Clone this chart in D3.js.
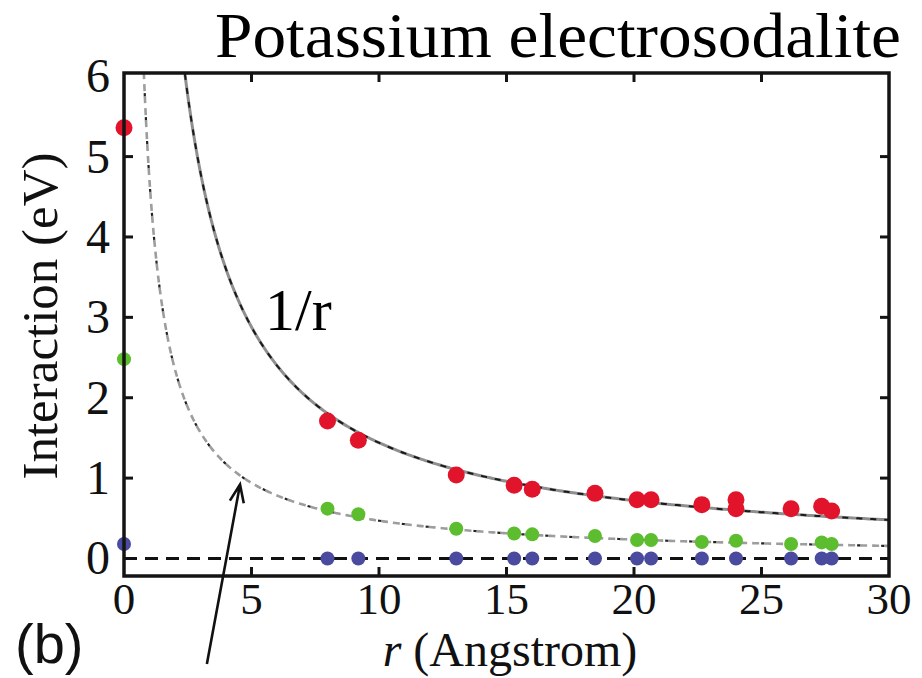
<!DOCTYPE html>
<html>
<head>
<meta charset="utf-8">
<script src="https://cdn.jsdelivr.net/npm/d3@7"></script>
<style>
  html, body { margin: 0; padding: 0; background: #fff; }
  svg { display: block; }
</style>
</head>
<body>
<svg id="chart" width="922" height="678"></svg>
<script>
// Pair distances r (Å) and interaction energies (eV) for the three series
const redR   = [0, 7.98, 9.19, 13.03, 15.3, 16.01, 18.47, 20.12, 20.67, 22.66, 24.0, 24.0, 26.16, 27.36, 27.75];
const redV   = [5.36, 1.71, 1.47, 1.04, 0.91, 0.86, 0.81, 0.73, 0.73, 0.67, 0.73, 0.62, 0.62, 0.65, 0.59];
const greenR = [0, 7.98, 9.19, 13.03, 15.3, 16.01, 18.47, 20.12, 20.67, 22.66, 24.0, 26.16, 27.36, 27.75];
const greenV = [2.48, 0.62, 0.55, 0.37, 0.31, 0.30, 0.28, 0.23, 0.23, 0.205, 0.22, 0.18, 0.20, 0.18];
const blueR  = [0, 7.98, 9.19, 13.03, 15.3, 16.01, 18.47, 20.12, 20.67, 22.66, 24.0, 26.16, 27.36, 27.75];
const blueV  = [0.18, 0, 0, 0, 0, 0, 0, 0, 0, 0, 0, 0, 0, 0];

// Coulomb-type reference curves A / r (eV·Å)
const coulombA  = 14.4;
const screenedA = 4.7;

const xTicks = [0, 5, 10, 15, 20, 25, 30];
const yTicks = [0, 1, 2, 3, 4, 5, 6];

const svg = d3.select("#chart");
const mLeft = 124, mRight = 889, mTop = 73, mBottom = 576;

const x = d3.scaleLinear().domain([0, 30]).range([mLeft, mRight]);
const y = d3.scaleLinear().domain([-0.218, 6.04]).range([mBottom, mTop]);

const serif = "'Liberation Serif', 'Times New Roman', serif";

// clip region for curves
svg.append("clipPath").attr("id", "plot")
  .append("rect").attr("x", mLeft).attr("y", mTop)
  .attr("width", mRight - mLeft).attr("height", mBottom - mTop);

const plot = svg.append("g").attr("clip-path", "url(#plot)");

// zero line
plot.append("line")
  .attr("x1", x(0)).attr("x2", x(30))
  .attr("y1", y(0)).attr("y2", y(0))
  .attr("stroke", "#111").attr("stroke-width", 3)
  .attr("stroke-dasharray", "13,8");

function curve(A) {
  const r0 = A / 6.2;
  const pts = d3.range(0, 401).map(i => r0 + (30 - r0) * Math.pow(i / 400, 1.6));
  return d3.line().x(r => x(r)).y(r => y(A / r))(pts);
}

// screened curve: gray dashes with black accents
plot.append("path").attr("d", curve(screenedA))
  .attr("fill", "none").attr("stroke", "#9d9d9d").attr("stroke-width", 2.6)
  .attr("stroke-dasharray", "7,5");
plot.append("path").attr("d", curve(screenedA))
  .attr("fill", "none").attr("stroke", "#222").attr("stroke-width", 2.2)
  .attr("stroke-dasharray", "3,21").attr("stroke-dashoffset", -9);

// bare 1/r curve
plot.append("path").attr("d", curve(coulombA))
  .attr("fill", "none").attr("stroke", "#8f8f8f").attr("stroke-width", 3);
plot.append("path").attr("d", curve(coulombA))
  .attr("fill", "none").attr("stroke", "#1a1a1a").attr("stroke-width", 2)
  .attr("stroke-dasharray", "6,8");

// markers
function dots(rs, vs, color, rad) {
  svg.append("g").selectAll("circle")
    .data(rs.map((r, i) => [r, vs[i]]))
    .join("circle")
    .attr("cx", d => x(d[0])).attr("cy", d => y(d[1]))
    .attr("r", rad).attr("fill", color);
}
dots(blueR, blueV, "#4a4a9e", 7);
dots(greenR, greenV, "#5cbd2e", 7);
dots(redR, redV, "#e2142b", 8.5);

// frame
svg.append("rect")
  .attr("x", mLeft).attr("y", mTop)
  .attr("width", mRight - mLeft).attr("height", mBottom - mTop)
  .attr("fill", "none").attr("stroke", "#141414").attr("stroke-width", 3.5);

// inward ticks on all four sides
const tickLen = 9;
const tk = svg.append("g").attr("stroke", "#141414").attr("stroke-width", 3);
xTicks.slice(1, -1).forEach(t => {
  tk.append("line").attr("x1", x(t)).attr("x2", x(t)).attr("y1", mBottom).attr("y2", mBottom - tickLen);
  tk.append("line").attr("x1", x(t)).attr("x2", x(t)).attr("y1", mTop).attr("y2", mTop + tickLen);
});
yTicks.slice(1, -1).forEach(t => {
  tk.append("line").attr("y1", y(t)).attr("y2", y(t)).attr("x1", mLeft).attr("x2", mLeft + tickLen);
  tk.append("line").attr("y1", y(t)).attr("y2", y(t)).attr("x1", mRight).attr("x2", mRight - tickLen);
});

// tick labels
svg.append("g").selectAll("text").data(xTicks).join("text")
  .attr("x", d => x(d)).attr("y", 614)
  .attr("text-anchor", "middle")
  .attr("font-family", serif).attr("font-size", 45).attr("fill", "#111")
  .text(d => d);
svg.append("g").selectAll("text").data(yTicks).join("text")
  .attr("x", 110).attr("y", d => y(d) + 16)
  .attr("text-anchor", "end")
  .attr("font-family", serif).attr("font-size", 48).attr("fill", "#111")
  .text(d => d);

// axis titles
svg.append("text")
  .attr("transform", "translate(57,316) rotate(-90)")
  .attr("text-anchor", "middle")
  .attr("font-family", serif).attr("font-size", 51).attr("fill", "#111")
  .text("Interaction (eV)");

const xt = svg.append("text")
  .attr("x", 510).attr("y", 666)
  .attr("text-anchor", "middle")
  .attr("font-family", serif).attr("font-size", 48).attr("fill", "#111");
xt.append("tspan").attr("font-style", "italic").text("r");
xt.append("tspan").text(" (Angstrom)");

// title
svg.append("text")
  .attr("x", 558).attr("y", 57)
  .attr("text-anchor", "middle")
  .attr("font-family", serif).attr("font-size", 63).attr("fill", "#000")
  .attr("textLength", 686).attr("lengthAdjust", "spacingAndGlyphs")
  .text("Potassium electrosodalite");

// curve label
svg.append("text")
  .attr("x", 265).attr("y", 330)
  .attr("font-family", serif).attr("font-size", 60).attr("fill", "#000")
  .text("1/r");

// panel label
svg.append("text")
  .attr("x", 15).attr("y", 663)
  .attr("font-family", "'Liberation Sans', Arial, sans-serif").attr("font-size", 56).attr("fill", "#111")
  .text("(b)");

// arrow pointing at the screened curve
const tail = [x(3.25), 664], tip = [x(4.55), y(0.92)];
const ang = Math.atan2(tip[1] - tail[1], tip[0] - tail[0]);
const hl = 19, ha = 0.38;
svg.append("path")
  .attr("d", `M${tail[0]},${tail[1]}L${tip[0]},${tip[1]}` +
    `M${tip[0] - hl * Math.cos(ang - ha)},${tip[1] - hl * Math.sin(ang - ha)}L${tip[0]},${tip[1]}` +
    `L${tip[0] - hl * Math.cos(ang + ha)},${tip[1] - hl * Math.sin(ang + ha)}`)
  .attr("fill", "none").attr("stroke", "#111").attr("stroke-width", 2.6);
</script>
</body>
</html>
